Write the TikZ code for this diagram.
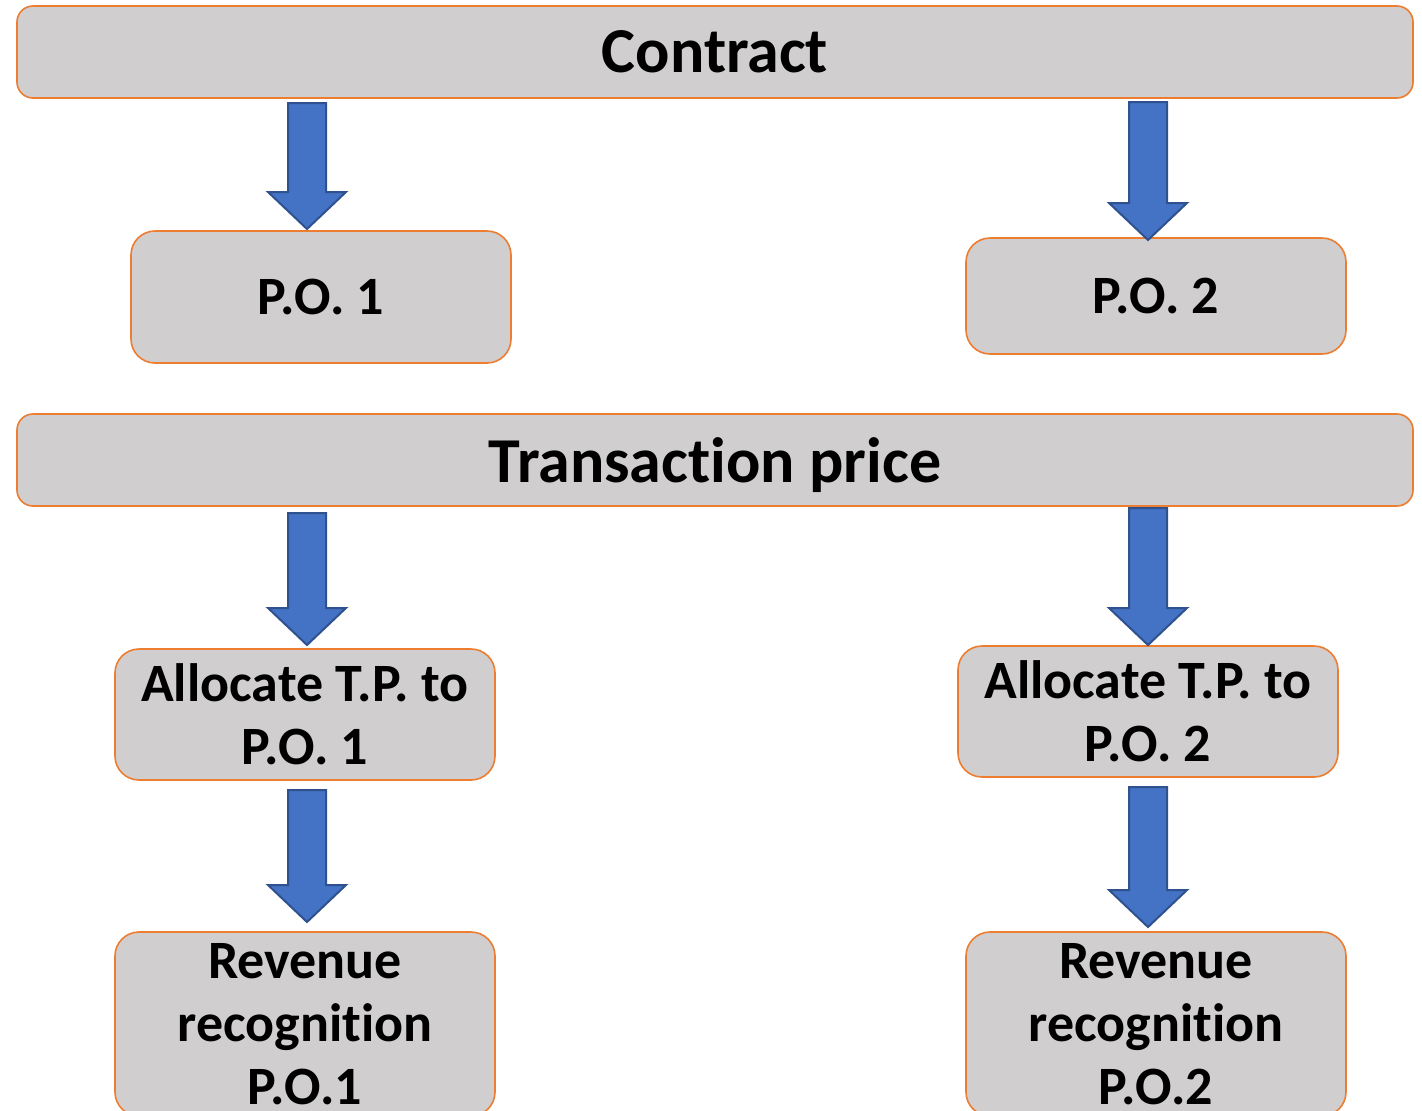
\documentclass[tikz,border=0pt]{standalone}
\usepackage{fontspec}
\setmainfont{Carlito}[Ligatures=NoCommon]
\usetikzlibrary{calc}
\definecolor{boxfill}{HTML}{D0CECE}
\definecolor{boxline}{HTML}{ED7D31}
\definecolor{arrfill}{HTML}{4472C4}
\definecolor{arrline}{HTML}{2F528F}
\tikzset{
  box/.style={draw=boxline, fill=boxfill, line width=0.8pt, rounded corners=12pt,
    inner sep=0pt, align=center, font=\bfseries\fontsize{27}{31.5}\selectfont},
  bigbox/.style={box, rounded corners=8pt, text depth=0pt, font=\bfseries\fontsize{32}{38}\selectfont},
  barrowstyle/.style={draw=arrline, fill=arrfill, line width=1pt, line join=miter}
}
\newcommand\blockarrow[2]{%
  \path[barrowstyle] ($(#1)+(-19,0)$) -- ($(#2)+(-19,-37)$) -- ($(#2)+(-39,-37)$) -- (#2)
    -- ($(#2)+(39,-37)$) -- ($(#2)+(19,-37)$) -- ($(#1)+(19,0)$) -- cycle;}
\begin{document}
\begin{tikzpicture}[x=0.5pt,y=-0.5pt]
\useasboundingbox (0,0) rectangle (1422,1110);
\clip (0,0) rectangle (1422,1110);
\fill[white] (0,0) rectangle (1422,1110);
% boxes
\node[bigbox, minimum width=698pt, minimum height=46pt] (contract) at (715,52) {Contract};
\node[box, minimum width=190pt, minimum height=66pt] (po1) at (321,297) {P.O. 1};
\node[box, minimum width=190pt, minimum height=58pt] (po2) at (1156,296) {P.O. 2};
\node[bigbox, minimum width=698pt, minimum height=46pt] (tp) at (715,460) {Transaction price};
\node[box, minimum width=190pt, minimum height=65.5pt] (al1) at (305,714.5) {Allocate T.P. to\\P.O. 1};
\node[box, minimum width=190pt, minimum height=65.5pt] (al2) at (1148,711.5) {Allocate T.P. to\\P.O. 2};
\node[box, minimum width=190pt, minimum height=92pt] (rr1) at (305,1024) {Revenue\\recognition\\P.O.1};
\node[box, minimum width=190pt, minimum height=92pt] (rr2) at (1156,1024) {Revenue\\recognition\\P.O.2};
% arrow end points
\coordinate (a1s) at (307,103);  \coordinate (a1e) at (307,229);
\coordinate (a2s) at (1148,102); \coordinate (a2e) at (1148,240);
\coordinate (a3s) at (307,513);  \coordinate (a3e) at (307,645);
\coordinate (a4s) at (1148,508); \coordinate (a4e) at (1148,645);
\coordinate (a5s) at (307,790);  \coordinate (a5e) at (307,922);
\coordinate (a6s) at (1148,787); \coordinate (a6e) at (1148,927);
\blockarrow{a1s}{a1e}
\blockarrow{a2s}{a2e}
\blockarrow{a3s}{a3e}
\blockarrow{a4s}{a4e}
\blockarrow{a5s}{a5e}
\blockarrow{a6s}{a6e}
\end{tikzpicture}
\end{document}
